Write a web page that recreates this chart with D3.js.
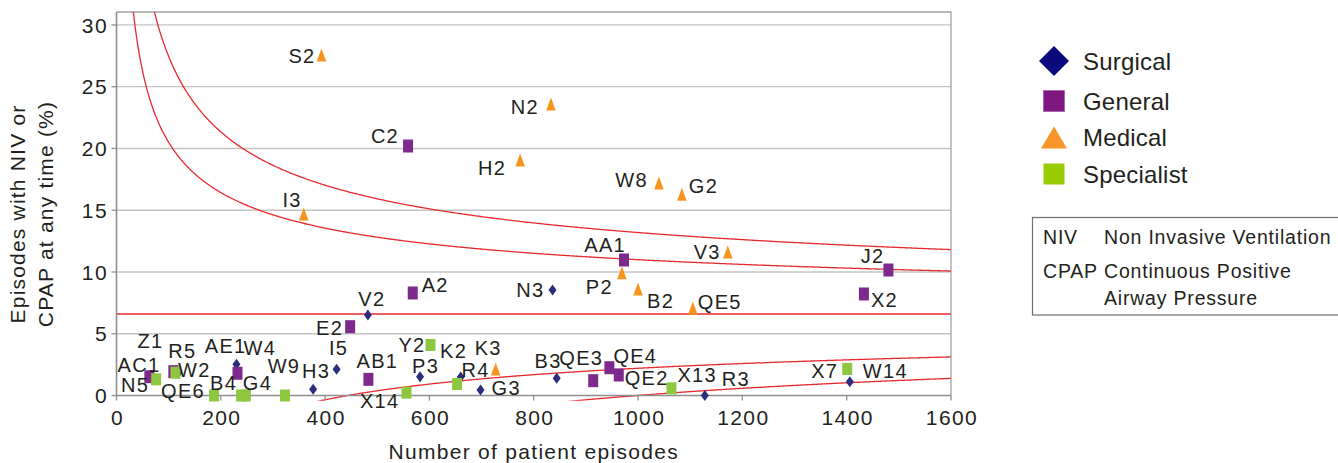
<!DOCTYPE html>
<html>
<head>
<meta charset="utf-8">
<script src="https://cdn.jsdelivr.net/npm/d3@7"></script>
<style>
  html, body { margin: 0; padding: 0; background: #fff; }
  svg { display: block; font-family: "Liberation Sans", Arial, sans-serif; }
  text { fill: #231f20; }
</style>
</head>
<body>
<div id="chart"></div>
<script>
// funnel plot : épisodes NIV / CPAP par hôpital

const width = 1338;
const height = 463;

// [unité, nombre d'épisodes, % avec NIV ou CPAP]
const surgical = [
  ["N3", 836, 8.54], ["V2", 482, 6.52], ["I5", 422, 2.12], ["H3", 377, 0.5],
  ["P3", 582, 1.52], ["AE1", 230, 2.53], ["W2", 118, 1.8], ["K3", 660, 1.5],
  ["G3", 698, 0.45], ["B3", 844, 1.39], ["R3", 1128, 0], ["W14", 1406, 1.12]
];
const general = [
  ["C2", 559, 20.2], ["AA1", 973, 10.97], ["J2", 1480, 10.16], ["X2", 1433, 8.22],
  ["A2", 568, 8.3], ["E2", 448, 5.57], ["AC1", 63, 1.52], ["R5", 109, 1.93],
  ["W4", 232, 1.8], ["AB1", 483, 1.31], ["QE3", 914, 1.2], ["QE4", 945, 2.25],
  ["QE2", 963, 1.66]
];
const medical = [
  ["S2", 393, 27.57], ["N2", 833, 23.6], ["H2", 774, 19.07], ["I3", 359, 14.7],
  ["W8", 1040, 17.2], ["G2", 1084, 16.3], ["V3", 1172, 11.62], ["P2", 969, 9.94],
  ["B2", 1000, 8.62], ["QE5", 1105, 7.09], ["R4", 727, 2.15]
];
const specialist = [
  ["N5", 76, 1.31], ["Z1", 113, 1.85], ["QE6", 187, 0], ["B4", 239, 0],
  ["G4", 248, 0], ["W9", 323, 0], ["X14", 556, 0.23], ["Y2", 602, 4.09],
  ["K2", 653, 0.93], ["X13", 1064, 0.58], ["X7", 1401, 2.15]
];

// limites du funnel plot : moyenne ± z * k / sqrt(n)
const meanRate = 6.6;
const spreadK = 69.5;
const zLimits = [2, 3];

const xTicks = [0, 200, 400, 600, 800, 1000, 1200, 1400, 1600];
const yTicks = [0, 5, 10, 15, 20, 25, 30];

const legendNames = ["Surgical", "General", "Medical", "Specialist"];
const abbrevs = [
  ["NIV", ["Non Invasive Ventilation"]],
  ["CPAP", ["Continuous Positive", "Airway Pressure"]]
];

// placement des étiquettes (ancre, dx, dy en px)
const labelAt = {
  S2: ["end", -6, 8], N2: ["end", -12, 10], C2: ["end", -9, -3], H2: ["end", -14, 15],
  W8: ["end", -11, 4], I3: ["end", -2, -7], G2: ["start", 7, -1], V3: ["end", -7, 7],
  P2: ["end", -9, 21], B2: ["start", 9, 19], QE5: ["start", 5, 1], R4: ["end", -6, 8],
  K3: ["start", 14, -22], K2: ["end", 10, -26], G3: ["start", 11, 5], N3: ["end", -8, 7],
  V2: ["middle", 4, -9], I5: ["middle", 2, -14], H3: ["middle", 3, -11], P3: ["start", -8, -4],
  AE1: ["end", 10, -11], W4: ["start", 6, -18], AB1: ["middle", 9, -11], X14: ["end", -7, 15],
  Y2: ["end", -5, 7], B3: ["end", 5, -10], QE3: ["end", 10, -16], QE4: ["start", 4, -5],
  QE2: ["start", 6, 10], X13: ["start", 6, -6], R3: ["start", 17, -10], X7: ["end", -9, 9],
  W14: ["start", 13, -4], AA1: ["end", 2, -8], J2: ["end", -4, -7], X2: ["start", 7, 13],
  A2: ["start", 9, -1], E2: ["end", -7, 8], AC1: ["end", 11, -5], N5: ["end", -7, 13],
  R5: ["start", -5, -14], Z1: ["middle", -25, -25], W2: ["start", 0, 4], QE6: ["end", -9, 2],
  B4: ["end", -4, -6], G4: ["start", -3, -6], W9: ["middle", -1, -23]
};

// formes des marqueurs (un peu plus hautes que larges, comme l'original)
const shapes = {
  diamond: (w, h) => `M0,${-h / 2}L${w / 2},0L0,${h / 2}L${-w / 2},0Z`,
  square: (w, h) => `M${-w / 2},${-h / 2}h${w}v${h}h${-w}Z`,
  triangle: (w, h) => `M0,${-h / 2}L${w / 2},${h / 2}L${-w / 2},${h / 2}Z`
};

const series = [
  { name: "Surgical", data: surgical, shape: "diamond", w: 8, h: 11, color: "#2c2d7c",
    legendColor: "#0b0b7d", lw: 30, lh: 30 },
  { name: "General", data: general, shape: "square", w: 10, h: 13, color: "#7d2a8c",
    legendColor: "#80167f", lw: 21, lh: 21 },
  { name: "Medical", data: medical, shape: "triangle", w: 9.5, h: 13, color: "#f7941d",
    legendColor: "#f8952a", lw: 26, lh: 22 },
  { name: "Specialist", data: specialist, shape: "square", w: 10, h: 12, color: "#8dc63f",
    legendColor: "#99cc00", lw: 21, lh: 21 }
];

const x = d3.scaleLinear().domain([0, 1600]).range([116.5, 951]);
const y = d3.scaleLinear().domain([0, 31.05]).range([395.5, 12]);

const svg = d3.select("#chart")
  .append("svg")
  .attr("width", width)
  .attr("height", height);

// grille horizontale
svg.append("g")
  .selectAll("line")
  .data(yTicks.filter(d => d > 0))
  .join("line")
  .attr("x1", x(0)).attr("x2", x(1600))
  .attr("y1", d => y(d)).attr("y2", d => y(d))
  .attr("stroke", "#c4c4c4")
  .attr("stroke-width", 1.3);

// cadre haut / droite
svg.append("path")
  .attr("d", `M${x(0)},${y(31.05)}H${x(1600)}V${y(0)}`)
  .attr("fill", "none")
  .attr("stroke", "#a3a3a3")
  .attr("stroke-width", 1.3);

// courbes de contrôle
svg.append("clipPath")
  .attr("id", "plotClip")
  .append("rect")
  .attr("x", x(0))
  .attr("y", y(31.05))
  .attr("width", x(1600) - x(0))
  .attr("height", y(-0.42) - y(31.05));

const limitLine = d3.line()
  .x(d => x(d[0]))
  .y(d => y(d[1]));

const ns = d3.range(8, 1601, 2);
const limits = [];
zLimits.forEach(z => {
  [1, -1].forEach(sign => {
    limits.push(ns.map(n => [n, meanRate + sign * z * spreadK / Math.sqrt(n)]));
  });
});

const limitG = svg.append("g").attr("clip-path", "url(#plotClip)");
limitG.selectAll("path")
  .data(limits)
  .join("path")
  .attr("d", limitLine)
  .attr("fill", "none")
  .attr("stroke", "#e8282d")
  .attr("stroke-width", 1.3);

limitG.append("line")
  .attr("x1", x(0)).attr("x2", x(1600))
  .attr("y1", y(meanRate)).attr("y2", y(meanRate))
  .attr("stroke", "#e8282d")
  .attr("stroke-width", 1.3);

// axes
const axisColor = "#8e8e8e";
const tickFont = "21px";

const xAxis = svg.append("g");
xAxis.append("line")
  .attr("x1", x(0)).attr("x2", x(1600))
  .attr("y1", y(0)).attr("y2", y(0))
  .attr("stroke", axisColor).attr("stroke-width", 1.6);
xAxis.selectAll("line.tick")
  .data(xTicks)
  .join("line")
  .attr("class", "tick")
  .attr("x1", d => x(d)).attr("x2", d => x(d))
  .attr("y1", y(0)).attr("y2", y(0) + 5)
  .attr("stroke", axisColor).attr("stroke-width", 1.3);
xAxis.selectAll("text")
  .data(xTicks)
  .join("text")
  .attr("x", d => x(d) + 1)
  .attr("y", 425)
  .attr("text-anchor", "middle")
  .style("font-size", tickFont)
  .style("letter-spacing", "1.4px")
  .text(d => d);

const yAxis = svg.append("g");
yAxis.append("line")
  .attr("x1", x(0)).attr("x2", x(0))
  .attr("y1", y(0)).attr("y2", y(31.05))
  .attr("stroke", axisColor).attr("stroke-width", 1.6);
yAxis.selectAll("line.tick")
  .data(yTicks)
  .join("line")
  .attr("class", "tick")
  .attr("x1", x(0) - 5).attr("x2", x(0))
  .attr("y1", d => y(d)).attr("y2", d => y(d))
  .attr("stroke", axisColor).attr("stroke-width", 1.3);
yAxis.selectAll("text")
  .data(yTicks)
  .join("text")
  .attr("x", 108)
  .attr("y", d => y(d))
  .attr("dy", "0.36em")
  .attr("text-anchor", "end")
  .style("font-size", tickFont)
  .style("letter-spacing", "1.4px")
  .text(d => d);

// titres d'axes
svg.append("text")
  .attr("x", (x(0) + x(1600)) / 2)
  .attr("y", 459)
  .attr("text-anchor", "middle")
  .style("font-size", "21px")
  .style("letter-spacing", "1.3px")
  .text("Number of patient episodes");

const yTitle = svg.append("g")
  .attr("transform", "translate(0,214) rotate(-90)");
["Episodes with NIV or", "CPAP at any time (%)"].forEach((t, i) => {
  yTitle.append("text")
    .attr("x", 0)
    .attr("y", 25 + i * 27.5)
    .attr("text-anchor", "middle")
    .style("font-size", "21px")
    .style("letter-spacing", "1.2px")
    .text(t);
});

// marqueurs
series.forEach(s => {
  svg.append("g")
    .selectAll("path")
    .data(s.data)
    .join("path")
    .attr("transform", d => `translate(${x(d[1])},${y(d[2])})`)
    .attr("d", shapes[s.shape](s.w, s.h))
    .attr("fill", s.color);
});

// étiquettes
const allPoints = series.flatMap(s => s.data);
svg.append("g")
  .selectAll("text")
  .data(allPoints)
  .join("text")
  .attr("x", d => x(d[1]) + labelAt[d[0]][1])
  .attr("y", d => y(d[2]) + labelAt[d[0]][2])
  .attr("text-anchor", d => labelAt[d[0]][0])
  .style("font-size", "20px")
  .style("letter-spacing", "1.3px")
  .text(d => d[0]);

// légende
const legend = svg.append("g").attr("transform", "translate(1054,0)");
const legendY = [61, 101, 137.5, 174];
series.forEach((s, i) => {
  legend.append("path")
    .attr("transform", `translate(0,${legendY[i]})`)
    .attr("d", shapes[s.shape](s.lw, s.lh))
    .attr("fill", s.legendColor)
    .attr("stroke", s.name === "General" ? "#a46aae" : "none")
    .attr("stroke-width", 1);
  legend.append("text")
    .attr("x", 29)
    .attr("y", legendY[i] + 8.5)
    .style("font-size", "24px")
    .style("letter-spacing", "0.2px")
    .text(legendNames[i]);
});

// encadré des abréviations
const box = svg.append("g");
box.append("rect")
  .attr("x", 1032.5)
  .attr("y", 217.5)
  .attr("width", 320)
  .attr("height", 97.5)
  .attr("fill", "#fff")
  .attr("stroke", "#6f6f6f")
  .attr("stroke-width", 1.2);
const rowY = [244, 278];
abbrevs.forEach((a, i) => {
  box.append("text")
    .attr("x", 1043)
    .attr("y", rowY[i])
    .style("font-size", "19.5px")
    .style("letter-spacing", "0.8px")
    .text(a[0]);
  a[1].forEach((line, j) => {
    box.append("text")
      .attr("x", 1104)
      .attr("y", rowY[i] + j * 27)
      .style("font-size", "19.5px")
      .style("letter-spacing", "0.8px")
      .text(line);
  });
});
</script>
</body>
</html>
